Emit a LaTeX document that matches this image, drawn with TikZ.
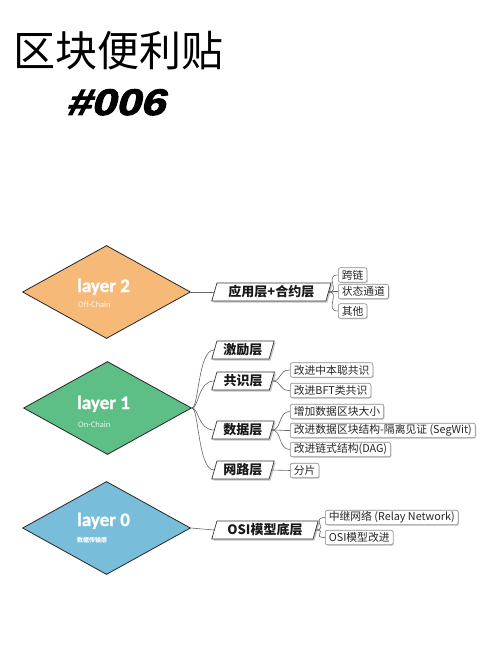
\documentclass[tikz,border=0pt]{standalone}
\usepackage{fontspec}
\setmainfont{Noto Sans CJK SC}
\newfontfamily\cjk{Noto Sans CJK SC}
\newfontfamily\lat{Carlito}
\newfontfamily\latb[FakeBold=1.2]{Carlito Bold}
\newfontfamily\heavy[FakeSlant=0.22,FakeBold=2.5]{Liberation Sans Bold}
\usetikzlibrary{shapes.geometric,shadows}
\definecolor{orangeD}{RGB}{247,185,120}
\definecolor{greenD}{RGB}{93,190,134}
\definecolor{blueD}{RGB}{120,190,218}
\tikzset{
  dia/.style={diamond, draw=black!85, line width=0.8pt, minimum width=168pt, minimum height=93pt, inner sep=0pt},
  layertitle/.style={anchor=base west, inner sep=0pt, text=white, font=\latb\fontsize{19}{19}\selectfont},
  layersub/.style={anchor=base west, inner sep=0pt, text=white, opacity=0.85, font=\lat\fontsize{8.5}{8.5}\selectfont},
  layerbox/.style={trapezium, trapezium left angle=74, trapezium right angle=106, draw=black!80, line width=0.7pt, fill=white, text=black!90, font=\cjk\bfseries\fontsize{13}{13}\selectfont, inner xsep=1.5pt, inner ysep=1pt, minimum height=18pt, anchor=west, drop shadow={shadow xshift=1.5pt,shadow yshift=-1.5pt,opacity=0.45}},
  childbox/.style={draw=black!45, line width=0.6pt, rounded corners=2pt, fill=white, text=black!85, font=\cjk\fontsize{10.8}{10.8}\selectfont, inner xsep=3.5pt, inner ysep=1pt, minimum height=14.5pt, anchor=west, drop shadow={shadow xshift=1pt,shadow yshift=-1pt,opacity=0.3}},
  conn/.style={draw=black!60, line width=0.6pt}
}
\begin{document}
\begin{tikzpicture}[x=1pt,y=-1pt]
\useasboundingbox (0,0) rectangle (500,666);
\fill[white] (0,0) rectangle (500,666);

% title
\node[anchor=base west, inner sep=0pt, font=\cjk\fontsize{42}{42}\selectfont] (title) at (13,67) {区块便利贴};
\node[anchor=base west, inner sep=0pt, font=\heavy\fontsize{37}{37}\selectfont] (num) at (66,115) {\scalebox{1.2}[1]{\#006}};

% diamonds
\node[dia, fill=orangeD] (d2) at (106.5,292) {};
\node[dia, fill=greenD] (d1) at (107.5,408) {};
\node[dia, fill=blueD] (d0) at (106.5,528) {};

\node[layertitle] (t2) at (77,292) {layer 2};
\node[layersub] (s2) at (78,307) {Off-Chain};
\node[layertitle] (t1) at (77,409) {layer 1};
\node[layersub] (s1) at (78,427) {On-Chain};
\node[layertitle] (t0) at (77,526) {layer 0};
\node[anchor=base west, inner sep=0pt, text=white, font=\cjk\bfseries\fontsize{6}{6}\selectfont] (s0) at (77,542) {数据传输层};

% layer 2 group
\node[layerbox] (app) at (214,292) {应用层+合约层};
\node[childbox] (kl) at (338,275) {跨链};
\node[childbox] (zt) at (338,291.5) {状态通道};
\node[childbox] (qt) at (338,311) {其他};

% layer 1 group
\node[layerbox] (jl) at (214,350) {激励层};
\node[layerbox] (gs) at (214,381) {共识层};
\node[layerbox] (sj) at (214,430) {数据层};
\node[layerbox] (wl) at (214,470) {网路层};
\node[childbox] (g1) at (290,370) {改进中本聪共识};
\node[childbox] (g2) at (290,390.5) {改进BFT类共识};
\node[childbox] (s1a) at (290,411.5) {增加数据区块大小};
\node[childbox] (s1b) at (290,430.5) {改进数据区块结构-隔离见证 (SegWit)};
\node[childbox] (s1c) at (290,449.5) {改进链式结构(DAG)};
\node[childbox] (fp) at (290,470.5) {分片};

% layer 0 group
\node[layerbox] (osi) at (214,530) {OSI模型底层};
\node[childbox] (zj) at (325,517.5) {中继网络 (Relay Network)};
\node[childbox] (gj) at (325,537.5) {OSI模型改进};

% connectors
\draw[conn] (d2.east) -- (app.west);
\draw[conn] (d0.east) -- (osi.west);
\foreach \t in {jl,gs,sj,wl}
  \draw[conn] (d1.east) .. controls +(7,0) and +(-16,0) .. (\t.west);
\foreach \t in {kl,zt,qt}
  \draw[conn] (app.east) .. controls +(12,0) and +(-14,0) .. (\t.west);
\foreach \t in {g1,g2}
  \draw[conn] (gs.east) .. controls +(10,0) and +(-12,0) .. (\t.west);
\foreach \t in {s1a,s1b,s1c}
  \draw[conn] (sj.east) .. controls +(10,0) and +(-12,0) .. (\t.west);
\draw[conn] (wl.east) -- (fp.west);
\foreach \t in {zj,gj}
  \draw[conn] (osi.east) .. controls +(12,0) and +(-14,0) .. (\t.west);
\end{tikzpicture}
\end{document}
